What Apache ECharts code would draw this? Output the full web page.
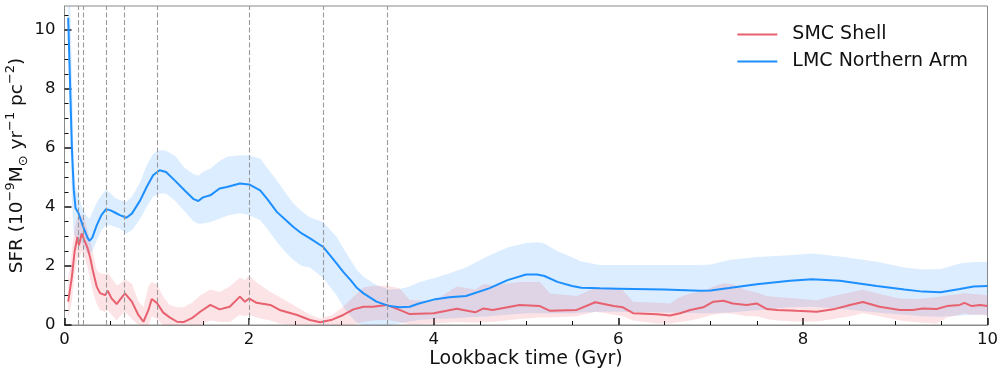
<!DOCTYPE html>
<html>
<head>
<meta charset="utf-8">
<script src="https://cdn.jsdelivr.net/npm/echarts@6/dist/echarts.min.js"></script>
<style>html,body{margin:0;padding:0;background:#fff}#c{width:1007px;height:374px}</style>
</head>
<body>
<div id="c"></div>
<script>
// ---- data ----
const seriesNames = ['SMC Shell', 'LMC Northern Arm'];
const eventTimes = [0.15, 0.2, 0.45, 0.65, 1.0, 2.0, 2.8, 3.5];

const lmcT  = [0.04,0.06,0.08,0.1,0.12,0.15,0.2,0.25,0.27,0.3,0.35,0.4,0.45,0.5,0.55,0.6,0.67,0.73,0.82,0.89,0.96,1.03,1.1,1.2,1.3,1.4,1.45,1.5,1.58,1.68,1.76,1.9,2.0,2.12,2.2,2.3,2.4,2.48,2.57,2.66,2.8,2.95,3.02,3.1,3.17,3.24,3.38,3.52,3.63,3.74,3.84,4.0,4.17,4.35,4.6,4.8,5.0,5.12,5.2,5.34,5.5,5.6,5.8,6.0,6.5,6.88,7.0,7.2,7.5,7.86,8.1,8.4,8.8,9.1,9.3,9.49,9.7,9.85,10.0];
const lmcSFR = [10.4,8.2,6.0,4.6,3.95,3.8,3.35,2.95,2.85,2.95,3.38,3.72,3.92,3.88,3.8,3.72,3.63,3.77,4.22,4.67,5.07,5.24,5.18,4.88,4.56,4.26,4.2,4.32,4.39,4.62,4.67,4.79,4.76,4.56,4.25,3.83,3.55,3.32,3.1,2.93,2.65,2.08,1.8,1.52,1.25,1.07,0.79,0.64,0.6,0.62,0.73,0.86,0.94,0.98,1.24,1.52,1.71,1.71,1.66,1.46,1.32,1.26,1.24,1.23,1.2,1.16,1.17,1.25,1.38,1.5,1.55,1.5,1.32,1.2,1.13,1.11,1.22,1.3,1.32];
const lmcLo  = [9.6,6.8,4.2,3.1,2.95,2.95,2.7,2.4,2.4,2.5,2.87,3.21,3.38,3.38,3.32,3.27,3.1,3.21,3.6,4.0,4.35,4.45,4.45,4.2,3.85,3.5,3.43,3.44,3.49,3.6,3.7,3.78,3.72,3.55,3.25,2.81,2.45,2.2,2.0,1.95,1.6,1.0,0.62,0.3,0.07,0.0,0.0,0.0,0.05,0.12,0.17,0.2,0.22,0.25,0.3,0.35,0.4,0.4,0.4,0.4,0.4,0.42,0.45,0.45,0.42,0.4,0.4,0.42,0.5,0.6,0.62,0.55,0.42,0.35,0.3,0.28,0.32,0.35,0.35];
const lmcHi  = [11.5,11.2,8.5,5.6,4.7,4.4,3.9,3.65,3.6,3.8,4.15,4.39,4.57,4.45,4.3,4.22,4.17,4.33,4.84,5.4,5.8,5.92,5.9,5.72,5.32,5.1,5.05,5.18,5.3,5.55,5.7,5.75,5.74,5.64,5.3,4.9,4.45,4.11,3.85,3.64,3.49,2.98,2.6,2.2,1.85,1.63,1.35,1.2,1.22,1.3,1.45,1.58,1.75,1.95,2.35,2.62,2.78,2.8,2.76,2.5,2.29,2.15,2.03,2.03,2.03,2.03,2.05,2.2,2.3,2.36,2.42,2.32,2.14,1.95,1.88,1.9,2.08,2.13,2.14];

const smcT  = [0.04,0.08,0.11,0.14,0.157,0.186,0.215,0.25,0.276,0.31,0.35,0.385,0.44,0.468,0.51,0.565,0.6,0.655,0.73,0.8,0.855,0.91,0.945,1.0,1.07,1.14,1.22,1.29,1.38,1.47,1.58,1.68,1.79,1.9,1.955,2.0,2.08,2.23,2.33,2.52,2.66,2.77,2.9,3.02,3.13,3.24,3.34,3.49,3.63,3.74,4.0,4.25,4.45,4.54,4.64,4.93,5.15,5.26,5.55,5.75,5.95,6.05,6.16,6.42,6.56,6.67,6.78,6.92,7.03,7.14,7.24,7.39,7.5,7.61,7.72,7.93,8.15,8.33,8.51,8.65,8.83,9.05,9.19,9.3,9.45,9.56,9.7,9.75,9.83,9.92,10.0];
const smcSFR = [0.79,1.63,2.5,2.98,2.7,3.1,2.87,2.6,2.31,1.8,1.29,1.08,1.01,1.16,0.9,0.71,0.85,1.07,0.79,0.34,0.11,0.51,0.88,0.75,0.42,0.26,0.11,0.1,0.23,0.45,0.68,0.53,0.62,0.96,0.79,0.9,0.75,0.68,0.51,0.34,0.17,0.09,0.18,0.34,0.53,0.62,0.62,0.68,0.51,0.37,0.4,0.55,0.43,0.56,0.51,0.68,0.64,0.48,0.51,0.77,0.64,0.6,0.4,0.36,0.32,0.4,0.51,0.6,0.79,0.82,0.73,0.68,0.73,0.54,0.51,0.48,0.45,0.53,0.68,0.78,0.62,0.51,0.51,0.56,0.54,0.64,0.68,0.75,0.64,0.68,0.64];
const smcLo  = [0.2,0.8,1.7,2.3,2.2,2.5,2.3,1.95,1.6,1.1,0.7,0.5,0.45,0.5,0.35,0.15,0.3,0.45,0.2,0.0,0.0,0.0,0.3,0.2,0.0,0.0,0.0,0.0,0.0,0.0,0.15,0.1,0.1,0.35,0.3,0.35,0.25,0.15,0.05,0.0,0.0,0.0,0.0,0.0,0.02,0.1,0.15,0.18,0.1,0.02,0.05,0.1,0.08,0.1,0.1,0.2,0.25,0.25,0.3,0.45,0.35,0.3,0.15,0.05,0.05,0.1,0.15,0.25,0.35,0.4,0.38,0.3,0.3,0.2,0.15,0.12,0.12,0.2,0.3,0.4,0.3,0.15,0.1,0.08,0.05,0.25,0.35,0.4,0.35,0.35,0.32];
const smcHi  = [1.5,2.5,3.3,3.65,3.6,3.75,3.6,3.2,2.9,2.4,1.85,1.75,1.72,1.75,1.6,1.35,1.4,1.55,1.4,0.8,0.6,1.3,1.46,1.38,0.96,0.68,0.6,0.6,0.75,1.0,1.2,1.12,1.3,1.6,1.52,1.67,1.45,1.12,0.95,0.6,0.35,0.22,0.34,0.62,0.96,1.27,1.33,1.33,1.24,0.85,0.8,1.3,1.2,1.39,1.35,1.46,1.46,1.07,0.98,1.26,1.22,1.18,0.79,0.75,0.73,0.95,1.07,1.15,1.3,1.41,1.38,1.18,1.1,0.98,0.95,0.9,0.84,0.98,1.1,1.2,1.05,0.9,0.88,0.9,0.95,1.0,1.05,1.08,1.05,1.03,1.01];

const xMajorTicks = [0, 2, 4, 6, 8, 10];
const yMajorTicks = [0, 2, 4, 6, 8, 10];
const yMinorTicks = [0.5,1,1.5,2.5,3,3.5,4.5,5,5.5,6.5,7,7.5,8.5,9,9.5,10.5];

// ---- styles ----
const FONT = 'DejaVu Sans';
const TXT = '#111';
const SMC_COLOR = '#e8616f';
const LMC_COLOR = '#1e8fff';

function pairs(t, v) { return t.map((x, i) => [x, v[i]]); }
function bandData(t, lo, hi) { return t.map((x, i) => [x, lo[i], hi[i]]); }

function bandSeries(name, t, lo, hi, fill, z) {
  return {
    type: 'custom',
    name: name + ' band',
    clip: true,
    silent: true,
    z: z,
    encode: { x: 0, y: [1, 2] },
    data: bandData(t, lo, hi),
    renderItem: function (params, api) {
      if (params.dataIndex !== 0) return null;
      const top = t.map((x, i) => api.coord([x, hi[i]]));
      const bot = t.map((x, i) => api.coord([x, lo[i]])).reverse();
      return {
        type: 'polygon',
        shape: { points: top.concat(bot) },
        style: { fill: fill, stroke: null }
      };
    }
  };
}

const chart = echarts.init(document.getElementById('c'), null, { renderer: 'canvas' });

const option = {
  animation: false,
  backgroundColor: '#ffffff',
  grid: { left: 64.5, right: 19.5, top: 6, bottom: 49, containLabel: false, outerBoundsMode: 'none',
          show: true, borderColor: '#8a8a8a', borderWidth: 1, backgroundColor: 'transparent' },
  legend: {
    data: seriesNames.map(n => ({ name: n, icon: 'rect' })),
    orient: 'vertical',
    right: 34,
    top: 20,
    itemWidth: 40,
    itemHeight: 2,
    itemGap: 8,
    textStyle: { fontFamily: FONT, fontSize: 19, color: TXT, lineHeight: 19, padding: [0, 0, 0, 10] }
  },
  xAxis: {
    type: 'value', min: 0, max: 10, interval: 2,
    name: 'Lookback time (Gyr)', nameLocation: 'middle', nameGap: 25, nameMoveOverlap: false,
    nameTextStyle: { fontFamily: FONT, fontSize: 19, color: TXT },
    axisLine: { show: true, lineStyle: { color: '#8a8a8a', width: 1 } },
    axisTick: { show: true, inside: true, length: 7, lineStyle: { color: '#111', width: 1.5 } },
    minorTick: { show: true, splitNumber: 4, length: 4, lineStyle: { color: '#111', width: 1 } },
    axisLabel: { fontFamily: FONT, fontSize: 16.5, color: TXT, margin: 6 },
    splitLine: { show: false }, minorSplitLine: { show: false }
  },
  yAxis: [{
    type: 'value', min: 0, max: 10.8, interval: 2,
    name: '{a|SFR (10}{s|−9}{a|M}{b|⊙}{a| yr}{s|−1}{a| pc}{s|−2}{a|)}',
    nameLocation: 'middle', nameGap: 34, nameRotate: 90, nameMoveOverlap: false,
    nameTextStyle: {
      fontFamily: FONT, color: TXT,
      rich: {
        a: { fontFamily: FONT, fontSize: 18.5, color: TXT, lineHeight: 26, verticalAlign: 'middle' },
        s: { fontFamily: FONT, fontSize: 13, color: TXT, lineHeight: 13, verticalAlign: 'top' },
        b: { fontFamily: FONT, fontSize: 13, color: TXT, lineHeight: 13, verticalAlign: 'bottom' }
      }
    },
    axisLine: { show: true, lineStyle: { color: '#8a8a8a', width: 1 } },
    axisTick: { show: true, inside: true, length: 7, lineStyle: { color: '#111', width: 1.5 }, customValues: yMajorTicks },
    axisLabel: { fontFamily: FONT, fontSize: 16.5, color: TXT, margin: 9, customValues: yMajorTicks },
    splitLine: { show: false }
  }, {
    type: 'value', min: 0, max: 10.8, position: 'left',
    axisLine: { show: false },
    axisTick: { show: true, inside: true, length: 4, lineStyle: { color: '#111', width: 1 }, customValues: yMinorTicks },
    axisLabel: { show: false },
    splitLine: { show: false }
  }],
  series: [
    bandSeries('LMC', lmcT, lmcLo, lmcHi, 'rgba(30,143,255,0.16)', 1),
    bandSeries('SMC', smcT, smcLo, smcHi, 'rgba(238,102,119,0.18)', 1),
    {
      type: 'line', name: 'dashes', data: [], z: 2, silent: true,
      markLine: {
        silent: true, symbol: 'none', label: { show: false },
        lineStyle: { type: [5, 2.5], color: '#9a9a9a', width: 1.1 },
        data: eventTimes.map(x => ({ xAxis: x }))
      }
    },
    {
      type: 'line', name: seriesNames[0], data: pairs(smcT, smcSFR), z: 3,
      showSymbol: false, symbol: 'none', color: SMC_COLOR,
      lineStyle: { color: SMC_COLOR, width: 2 }
    },
    {
      type: 'line', name: seriesNames[1], data: pairs(lmcT, lmcSFR), z: 4,
      showSymbol: false, symbol: 'none', color: LMC_COLOR,
      lineStyle: { color: LMC_COLOR, width: 2 }
    }
  ]
};
chart.setOption(option);
</script>
</body>
</html>
